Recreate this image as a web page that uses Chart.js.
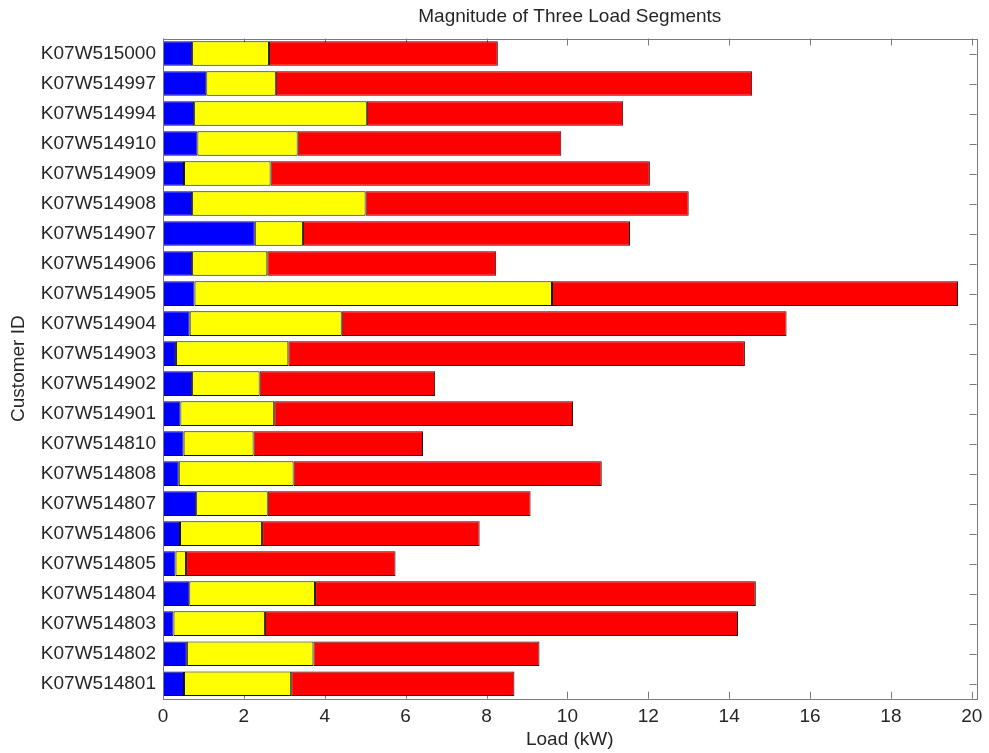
<!DOCTYPE html>
<html>
<head>
<meta charset="utf-8">
<title>Magnitude of Three Load Segments</title>
<script src="https://cdn.jsdelivr.net/npm/chart.js@4/dist/chart.umd.min.js"></script>
<style>
  html, body { margin: 0; padding: 0; background: #ffffff; }
  #wrap { width: 989px; height: 753px; }
</style>
</head>
<body>
<div id="wrap"><canvas id="chart" width="989" height="753"></canvas></div>
<script>
// Customer IDs, listed top to bottom
const customers = [
  'K07W515000', 'K07W514997', 'K07W514994', 'K07W514910', 'K07W514909',
  'K07W514908', 'K07W514907', 'K07W514906', 'K07W514905', 'K07W514904',
  'K07W514903', 'K07W514902', 'K07W514901', 'K07W514810', 'K07W514808',
  'K07W514807', 'K07W514806', 'K07W514805', 'K07W514804', 'K07W514803',
  'K07W514802', 'K07W514801'
];

// Load of each segment (kW), stacked left to right
const segmentBlue = [
  0.72, 1.07, 0.77, 0.85, 0.52, 0.72, 2.27, 0.72, 0.78, 0.66, 0.32,
  0.72, 0.43, 0.51, 0.39, 0.82, 0.42, 0.31, 0.65, 0.26, 0.59, 0.52
];
const segmentYellow = [
  1.90, 1.72, 4.27, 2.48, 2.14, 4.29, 1.19, 1.86, 8.84, 3.76, 2.78,
  1.67, 2.32, 1.73, 2.84, 1.77, 2.03, 0.26, 3.11, 2.26, 3.13, 2.65
];
const segmentRed = [
  5.66, 11.78, 6.34, 6.52, 9.38, 7.99, 8.09, 5.66, 10.04, 11.00, 11.29,
  4.34, 7.39, 4.19, 7.62, 6.50, 5.38, 5.18, 10.90, 11.70, 5.59, 5.52
];

const loadTicks = [0, 2, 4, 6, 8, 10, 12, 14, 16, 18, 20];

const FONT = "'Liberation Sans', Arial, sans-serif";
const TEXT = '#262626';
const FRAME = '#7a7a7a';
const TICK_LEN = 7;

// Box around the plot area plus inward-pointing tick marks on all four sides
const axesFrame = {
  id: 'axesFrame',
  beforeDatasetsDraw(chart) {
    const { ctx, chartArea: a, scales } = chart;
    ctx.save();
    ctx.strokeStyle = FRAME;
    ctx.lineWidth = 1;
    ctx.beginPath();
    loadTicks.forEach(v => {
      const x = Math.round(scales.x.getPixelForValue(v)) + 0.5;
      ctx.moveTo(x, a.top); ctx.lineTo(x, a.top + TICK_LEN);
      ctx.moveTo(x, a.bottom); ctx.lineTo(x, a.bottom - TICK_LEN);
    });
    customers.forEach((c, i) => {
      const y = Math.round(scales.y.getPixelForValue(i)) + 0.5;
      ctx.moveTo(a.left, y); ctx.lineTo(a.left + TICK_LEN, y);
      ctx.moveTo(a.right, y); ctx.lineTo(a.right - TICK_LEN, y);
    });
    ctx.stroke();
    ctx.restore();
  },
  afterDatasetsDraw(chart) {
    const { ctx, chartArea: a } = chart;
    ctx.save();
    ctx.strokeStyle = FRAME;
    ctx.lineWidth = 1;
    ctx.strokeRect(Math.round(a.left) + 0.5, Math.round(a.top) + 0.5,
                   Math.round(a.right - a.left), Math.round(a.bottom - a.top));
    ctx.restore();
  }
};

const whiteBackground = {
  id: 'whiteBackground',
  beforeDraw(chart) {
    const { ctx, width, height } = chart;
    ctx.save();
    ctx.fillStyle = '#ffffff';
    ctx.fillRect(0, 0, width, height);
    ctx.restore();
  }
};

const barStyle = {
  borderColor: '#111111',
  borderWidth: 1,
  borderSkipped: false,
  barPercentage: 0.82,
  categoryPercentage: 1.0
};

new Chart(document.getElementById('chart'), {
  type: 'bar',
  data: {
    labels: customers,
    datasets: [
      Object.assign({ label: 'Segment 1', data: segmentBlue,   backgroundColor: '#0000ff' }, barStyle),
      Object.assign({ label: 'Segment 2', data: segmentYellow, backgroundColor: '#ffff00' }, barStyle),
      Object.assign({ label: 'Segment 3', data: segmentRed,    backgroundColor: '#ff0000' }, barStyle)
    ]
  },
  options: {
    indexAxis: 'y',
    responsive: false,
    animation: false,
    devicePixelRatio: 1,
    layout: { padding: { left: 0, right: 6, top: 0, bottom: 0 } },
    plugins: {
      legend: { display: false },
      tooltip: { enabled: false },
      title: {
        display: true,
        text: 'Magnitude of Three Load Segments',
        fullSize: false,
        color: TEXT,
        font: { family: FONT, size: 19, weight: 'normal' },
        padding: { top: 5.6, bottom: 10.1 }
      }
    },
    scales: {
      x: {
        type: 'linear',
        stacked: true,
        min: 0,
        max: 20.12,
        grid: { display: false, drawTicks: false },
        border: { display: false },
        ticks: {
          stepSize: 2,
          includeBounds: false,
          color: TEXT,
          padding: 6.6,
          font: { family: FONT, size: 19 }
        },
        title: {
          display: true,
          text: 'Load (kW)',
          color: TEXT,
          font: { family: FONT, size: 19 },
          padding: { top: 0, bottom: 1.6 }
        },
        afterFit(scale) { scale.height = 54.3; }
      },
      y: {
        type: 'category',
        stacked: true,
        grid: { display: false, drawTicks: false },
        border: { display: false },
        ticks: {
          color: TEXT,
          padding: 7,
          autoSkip: false,
          font: { family: FONT, size: 19 }
        },
        title: {
          display: true,
          text: 'Customer ID',
          color: TEXT,
          font: { family: FONT, size: 19 },
          padding: { top: 7.8, bottom: 0 }
        },
        afterFit(scale) { scale.width = 163; }
      }
    }
  },
  plugins: [whiteBackground, axesFrame]
});
</script>
</body>
</html>
